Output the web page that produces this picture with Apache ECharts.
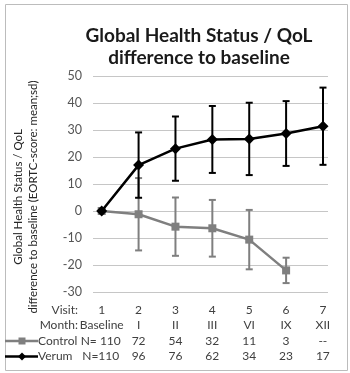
<!DOCTYPE html>
<html><head><meta charset="utf-8">
<script src="https://cdn.jsdelivr.net/npm/echarts@6/dist/echarts.min.js"></script>
<style>html,body{margin:0;padding:0;background:#fff}#c{width:350px;height:373px}</style>
</head><body><div id="c"></div>
<script>
const visits = ['1','2','3','4','5','6','7'];
const months = ['Baseline','I','II','III','VI','IX','XII'];
const controlN = ['N= 110','72','54','32','11','3','--'];
const verumN = ['N=110','96','76','62','34','23','17'];
const controlMean = [0, -1.2, -5.8, -6.4, -10.6, -22.0, null];
const controlSD = [0, 13.4, 10.8, 10.5, 11.0, 4.7, null];
const verumMean = [0, 17.0, 23.1, 26.5, 26.7, 28.7, 31.4];
const verumSD = [0, 12.1, 11.9, 12.4, 13.4, 12.0, 14.3];
const yTicks = {min: -30, max: 50, interval: 10};

const FONT = 'Lato, "Open Sans", sans-serif';
const chart = echarts.init(document.getElementById('c'));

function pts(mean){ return mean.map((m,i)=> m==null?null:[i+1,m]).filter(d=>d); }
function errs(mean, sd){ return mean.map((m,i)=> (m==null||!sd[i])?null:[i+1, m-sd[i], m+sd[i]]).filter(d=>d); }
function errSeries(data, color, z){
  return {type:'custom', xAxisIndex:0, yAxisIndex:0, z:z, silent:true, data:data,
    renderItem:function(params, api){
      const x = api.value(0);
      const lo = api.coord([x, api.value(1)]);
      const hi = api.coord([x, api.value(2)]);
      const w = 3.5;
      const st = {stroke: color, lineWidth: 2};
      return {type:'group', children:[
        {type:'line', shape:{x1:lo[0], y1:lo[1], x2:hi[0], y2:hi[1]}, style:st},
        {type:'line', shape:{x1:lo[0]-w, y1:lo[1], x2:lo[0]+w, y2:lo[1]}, style:st},
        {type:'line', shape:{x1:hi[0]-w, y1:hi[1], x2:hi[0]+w, y2:hi[1]}, style:st}
      ]};
    }};
}

const option = {
  animation:false,
  textStyle:{fontFamily:FONT},
  title:{text:'Global Health Status / QoL\ndifference to baseline', left:194, textAlign:'center', top:20,
    textStyle:{fontFamily:FONT, fontSize:19, fontWeight:'bold', color:'#1a1a1a', lineHeight:22}},
  grid:[
    {left:93, width:235, top:76, height:216},
    {left:83.3, width:258, top:76, height:216}
  ],
  xAxis:[
    {type:'value', gridIndex:0, min:0.764, max:7.136, show:false},
    {type:'category', gridIndex:1, data:visits, boundaryGap:true,
      axisLine:{show:false}, axisTick:{show:false},
      axisLabel:{interval:0, margin:10, color:'#404040', fontSize:12, lineHeight:15.5,
        formatter:function(v, i){
          const n = (i===0) ? '{s|'+controlN[i]+'}' : controlN[i];
          const n2 = (i===0) ? '{s|'+verumN[i]+'}' : verumN[i];
          return visits[i]+'\n'+months[i]+'\n'+n+'\n'+n2;
        },
        rich:{s:{fontSize:12, color:'#404040', padding:[0,2,0,0], lineHeight:15.5}}
      }}
  ],
  yAxis:[
    {type:'value', gridIndex:0, min:yTicks.min, max:yTicks.max, interval:yTicks.interval,
      axisLine:{show:false}, axisTick:{show:false},
      splitLine:{lineStyle:{color:'#c6c6c6', width:1}},
      axisLabel:{color:'#555', fontSize:12.5, margin:11}},
    {type:'value', gridIndex:1, min:yTicks.min, max:yTicks.max, show:false}
  ],
  graphic:[
    {type:'rect', shape:{x:5.5, y:4.5, width:342, height:366}, style:{fill:null, stroke:'#bcbcbc', lineWidth:1}, silent:true, z:-1},
    {type:'text', x:25.5, y:197, rotation:Math.PI/2,
      style:{text:'Global Health Status / QoL\ndifference to baseline (EORTC-score: mean;sd)', align:'center', verticalAlign:'middle',
        fontSize:11.5, lineHeight:15, fontFamily:FONT, fill:'#262626'}},
    {type:'text', style:{text:'Visit:', x:78, y:310, align:'right', verticalAlign:'middle', fontSize:12, fontFamily:FONT, fill:'#404040'}},
    {type:'text', style:{text:'Month:', x:78, y:325.5, align:'right', verticalAlign:'middle', fontSize:12, fontFamily:FONT, fill:'#404040'}},
    {type:'line', shape:{x1:5, y1:341, x2:38, y2:341}, style:{stroke:'#7f7f7f', lineWidth:2.5}},
    {type:'rect', shape:{x:18.5, y:337.5, width:7, height:7}, style:{fill:'#7f7f7f'}},
    {type:'text', style:{text:'Control', x:38, y:341, align:'left', verticalAlign:'middle', fontSize:12, fontFamily:FONT, fill:'#404040'}},
    {type:'line', shape:{x1:5, y1:356.5, x2:38, y2:356.5}, style:{stroke:'#000', lineWidth:2.5}},
    {type:'polygon', shape:{points:[[22,352.5],[26,356.5],[22,360.5],[18,356.5]]}, style:{fill:'#000'}},
    {type:'text', style:{text:'Verum', x:38, y:356.5, align:'left', verticalAlign:'middle', fontSize:12, fontFamily:FONT, fill:'#404040'}}
  ],
  series:[
    errSeries(errs(controlMean, controlSD), '#7f7f7f', 2),
    {type:'line', xAxisIndex:0, yAxisIndex:0, z:3, data:pts(controlMean), symbol:'rect', symbolSize:8,
      lineStyle:{color:'#7f7f7f', width:2.5}, itemStyle:{color:'#7f7f7f'}},
    errSeries(errs(verumMean, verumSD), '#000', 4),
    {type:'line', xAxisIndex:0, yAxisIndex:0, z:5, data:pts(verumMean), symbol:'diamond', symbolSize:11,
      lineStyle:{color:'#000', width:2.5}, itemStyle:{color:'#000'}}
  ]
};
chart.setOption(option);
</script></body></html>
